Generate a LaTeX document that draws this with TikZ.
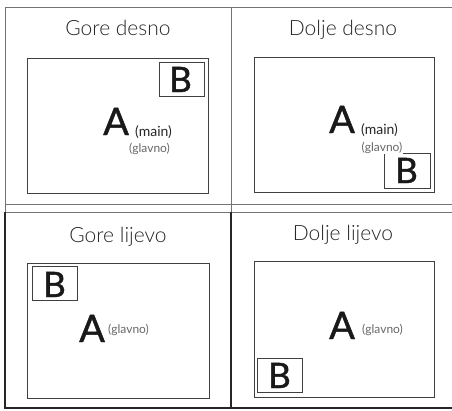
\documentclass[tikz,border=0pt]{standalone}
\usepackage{fontspec}
\setmainfont{Lato}
\newfontfamily\thinfont{Lato Light}
\newfontfamily\heavyfont[FakeBold=1.2]{Lato}
\begin{document}
\begin{tikzpicture}[x=1pt,y=-1pt,
  frameline/.style={draw=black!55,line width=1pt},
  darkline/.style={draw=black!85,line width=1.1pt},
  screen/.style={draw=black!75,line width=0.9pt},
  pipbox/.style={draw=black!75,line width=0.9pt},
  title/.style={font=\thinfont\fontsize{21}{24}\selectfont,text=black!85,anchor=base,inner sep=0pt},
  bigA/.style={font=\heavyfont\fontsize{38}{40}\selectfont,text=black!90,anchor=base west,inner sep=0pt},
  bigB/.style={font=\heavyfont\fontsize{35}{38}\selectfont,text=black!90,anchor=base west,inner sep=0pt},
  mainlbl/.style={font=\fontsize{14}{16}\selectfont,text=black!85,anchor=base west,inner sep=0pt},
  glavlbl/.style={font=\fontsize{12}{14}\selectfont,text=black!60,anchor=base west,inner sep=0pt}]
\useasboundingbox (0,0) rectangle (452,410);

% grid frame
\coordinate (tl) at (5,7);
\coordinate (tr) at (452,7);
\coordinate (m1l) at (5,204);
\coordinate (m1r) at (452,204);
\coordinate (m2l) at (5,212);
\coordinate (m2r) at (452,212);
\coordinate (bl) at (5,408);
\coordinate (br) at (452,408);
\coordinate (vt) at (231,7);
\coordinate (vm) at (231,212);
\coordinate (vb) at (231,408);
\draw[frameline] (tr) -- (tl) -- (m2l);
\draw[frameline] (m1l) -- (m1r);
\draw[frameline] (m2l) -- (m2r);
\draw[frameline] (vt) -- (vm);
\draw[darkline] (m2l) -- (bl) -- (br);
\draw[darkline] (vm) -- (vb);

% panel 1: Gore desno
\node[title] (t1) at (118,35) {Gore desno};
\draw[screen] (27,58) rectangle (208,193);
\draw[pipbox] (159,62) rectangle (204,96);
\node[bigB] (b1) at (169,92) {B};
\node[bigA] (a1) at (103,135) {A};
\node[mainlbl] (m1) at (135,136) {(main)};
\node[glavlbl] (g1) at (129,152) {(glavno)};

% panel 2: Dolje desno
\node[title] (t2) at (343,35) {Dolje desno};
\draw[screen] (254,57) rectangle (434,192);
\draw[pipbox] (384,153) rectangle (430,188);
\node[bigB] (b2) at (395,183) {B};
\node[bigA] (a2) at (329,133) {A};
\node[mainlbl] (m2) at (361,134) {(main)};
\node[glavlbl,fill=white,inner sep=0.5pt] (g2) at (361,151) {(glavno)};

% panel 3: Gore lijevo
\node[title] (t3) at (118,242) {Gore lijevo};
\draw[screen] (27,263) rectangle (209,398);
\draw[pipbox] (32,266) rectangle (77,300);
\node[bigB] (b3) at (43,297) {B};
\node[bigA] (a3) at (79,342) {A};
\node[glavlbl] (g3) at (108,333) {(glavno)};

% panel 4: Dolje lijevo
\node[title] (t4) at (343,240) {Dolje lijevo};
\draw[screen] (254,261) rectangle (434,397);
\draw[pipbox] (257,358) rectangle (302,392);
\node[bigB] (b4) at (268,388) {B};
\node[bigA] (a4) at (329,339) {A};
\node[glavlbl] (g4) at (362,333) {(glavno)};
\end{tikzpicture}
\end{document}
